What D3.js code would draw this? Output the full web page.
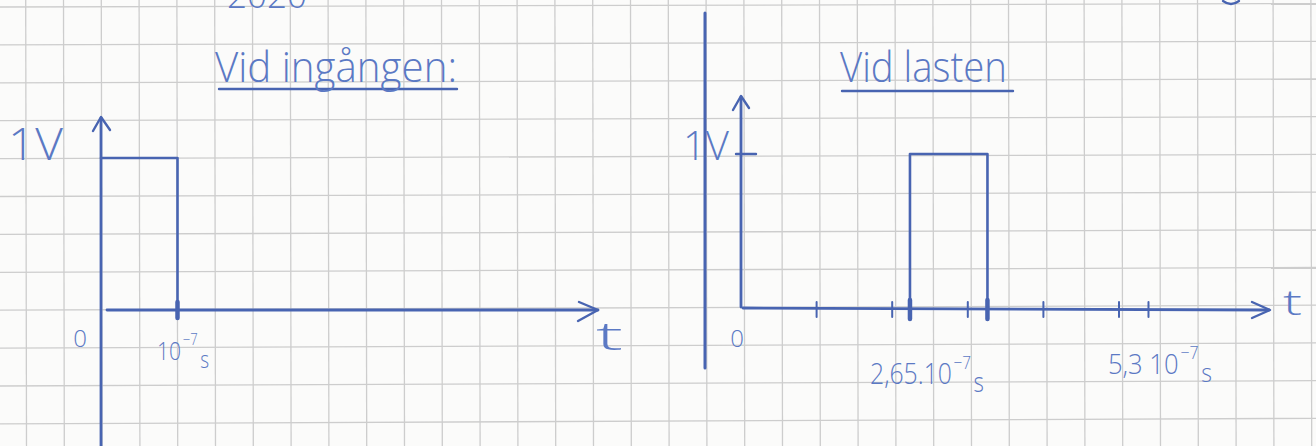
<!DOCTYPE html>
<html>
<head>
<meta charset="utf-8">
<script src="https://cdn.jsdelivr.net/npm/d3@7"></script>
<style>
  html, body { margin: 0; padding: 0; background: #fbfbfa; overflow: hidden; }
  svg { display: block; }
  text { font-family: "Open Sans", "DejaVu Sans", sans-serif; font-weight: 300; fill: #5b79c4; }
</style>
</head>
<body>
<svg id="chart" width="1316" height="446"></svg>
<script>
// Input pulse ("Vid ingången"): time in units of 1e-7 s, voltage in V
const inputTime = [0, 1, 1];
const inputVolt = [1, 1, 0];

// Pulse at the load ("Vid lasten")
const loadTime = [2.65, 2.65, 3.65, 3.65];
const loadVolt = [0, 1, 1, 0];

// Marks on the load time axis
const loadTicks = [1, 2, 3, 4, 5, 5.3];
const loadEdgeTicks = [2.65, 3.65];

// Text
const titles = ["Vid ingången:", "Vid lasten"];
const voltLabel = "1V";
const originLabel = "0";
const timeLabel = "t";
const inputTimeLabel = ["10", "−7", "s"];
const loadStartLabel = ["2,65.10", "−7", "s"];
const loadPeriodLabel = ["5,3 10", "−7", "s"];
const dateLabel = "2020";

const W = 1316, H = 446;
const PEN = "#4864b1";
const svg = d3.select("#chart");

// ---- squared paper ----
const CELL_X = 37.8, GX0 = 25.7;
const grid = svg.append("g").attr("stroke", "#cdcdcd").attr("stroke-width", 1.3);
d3.range(0, 35).forEach(i => {
  const x = GX0 + CELL_X * i;
  grid.append("line").attr("x1", x).attr("y1", 0).attr("x2", x + 0.8).attr("y2", H);
});
d3.range(0, 12).forEach(j => {
  grid.append("line")
    .attr("x1", 0).attr("y1", 7 + 37.9 * j)
    .attr("x2", W).attr("y2", 3.6 + 37.7 * j);
});

const pen = svg.append("g")
  .attr("fill", "none").attr("stroke", PEN)
  .attr("stroke-width", 2.6).attr("stroke-linecap", "round").attr("stroke-linejoin", "round");

function seg(x1, y1, x2, y2, w) {
  const l = pen.append("line").attr("x1", x1).attr("y1", y1).attr("x2", x2).attr("y2", y2);
  if (w) l.attr("stroke-width", w);
  return l;
}
function poly(pts, w) {
  const p = pen.append("path").attr("d", d3.line()(pts));
  if (w) p.attr("stroke-width", w);
  return p;
}
function label(str, x, y, size, len, anchor) {
  const t = svg.append("text").attr("x", x).attr("y", y)
    .attr("font-size", size).text(str);
  if (len) t.attr("textLength", len).attr("lengthAdjust", "spacingAndGlyphs");
  if (anchor) t.attr("text-anchor", anchor);
  return t;
}
// mantissa, raised exponent and lowered unit in one text run
function sciLabel(parts, x, base, size, len) {
  const t = svg.append("text").attr("x", x).attr("y", base).attr("font-size", size)
    .attr("textLength", len).attr("lengthAdjust", "spacingAndGlyphs");
  t.append("tspan").text(parts[0]);
  t.append("tspan").attr("dx", 2).attr("dy", -15).attr("font-size", size * 0.62).text(parts[1]);
  t.append("tspan").attr("dx", 3).attr("dy", 23).attr("font-size", size * 0.9).text(parts[2]);
  return t;
}

// fragment of the date at the top edge
label(dateLabel, 227, 8, 34, 80);
pen.append("path").attr("d", "M1223,1 Q1231,7 1239,1").attr("stroke-width", 2.2);

// ================= Input panel =================
const xIn = d3.scaleLinear().domain([0, 1]).range([101, 177.5]);
const yIn = d3.scaleLinear().domain([0, 1]).range([310, 158]);

label(titles[0], 215, 82, 42, 242);
seg(219, 89, 457, 89, 2.4);

// axes
seg(xIn(0), 118, xIn(0), H + 2, 2.8);
poly([[93, 131], [xIn(0), 117], [110, 130]], 2.4);
seg(xIn(0) + 6, yIn(0), 598, yIn(0), 2.8);
poly([[579, 302], [598, 310], [578, 321]], 2.4);

// pulse
poly(inputTime.map((t, i) => [xIn(t), yIn(inputVolt[i])]), 2.6);
seg(xIn(1), yIn(0) - 8, xIn(1), yIn(0) + 8, 4.5);

label(voltLabel, 8, yIn(1) + 2, 44, 55);
label(originLabel, 80, 347, 24, null, "middle");
sciLabel(inputTimeLabel, 157, 360, 26, 52);
label(timeLabel, 596, 350, 38, 27);

// ================= Load panel =================
// separator stroke between the two sketches
seg(705, 13, 705, 368, 3);

// hand-spaced time axis: breakpoints at the marked values
const loadDomain = [0, 1, 2, 2.65, 3, 3.65, 4, 5, 5.3];
const loadCells = [0, 2, 4, 4.47, 6, 6.52, 8, 10, 10.78];
const xLoad = d3.scaleLinear().domain(loadDomain).range(loadCells.map(c => 741 + c * 37.8));
const yLoad = d3.scaleLinear().domain([0, 1]).range([308, 154]);

label(titles[1], 840, 82, 42, 167);
seg(842, 91, 1013, 91, 2.4);

// axes
seg(xLoad(0), 97, xLoad(0), yLoad(0) - 1, 2.8);
poly([[733, 110], [xLoad(0), 96], [749, 108]], 2.4);
seg(736, yLoad(1), 756, yLoad(1), 2.4);
seg(xLoad(0) + 2, yLoad(0), 1269, yLoad(0) + 2, 2.8);
poly([[1252, 302], [1270, 310], [1252, 318]], 2.4);

loadTicks.forEach(t => seg(xLoad(t), yLoad(0) - 6, xLoad(t), yLoad(0) + 9, 2));
loadEdgeTicks.forEach(t => seg(xLoad(t), yLoad(0) - 8, xLoad(t), yLoad(0) + 11, 4.5));

// pulse
poly(loadTime.map((t, i) => [xLoad(t), yLoad(loadVolt[i])]), 2.6);

label(voltLabel, 683, 160, 40, 46);
label(originLabel, 737, 347, 24, null, "middle");
sciLabel(loadStartLabel, 870, 384, 30, 114);
sciLabel(loadPeriodLabel, 1108, 374, 28, 104);
label(timeLabel, 1283, 315, 34, 19);
</script>
</body>
</html>
